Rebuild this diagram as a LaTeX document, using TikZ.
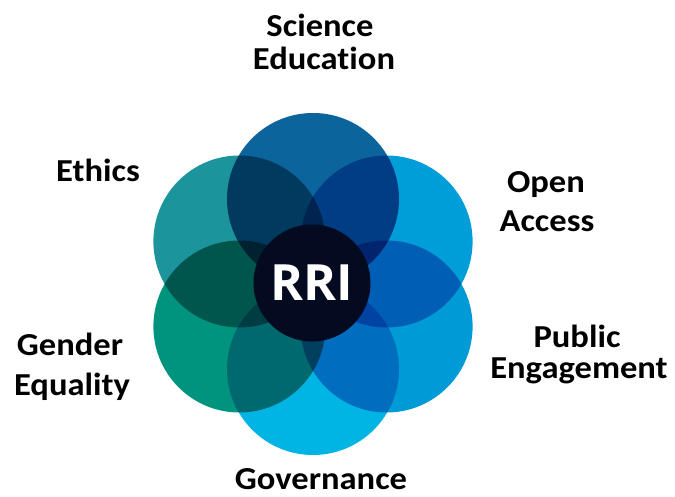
\documentclass[tikz,border=0pt]{standalone}
\usepackage{fontspec}
\setmainfont{Carlito}[Ligatures=NoCommon]
\newfontfamily\rrifont{Open Sans}
\definecolor{cSci}{RGB}{12,100,156}
\definecolor{cOpen}{RGB}{0,158,216}
\definecolor{cPub}{RGB}{0,154,214}
\definecolor{cGov}{RGB}{0,181,228}
\definecolor{cGen}{RGB}{0,148,126}
\definecolor{cEth}{RGB}{28,148,156}
\definecolor{cRRI}{RGB}{4,10,32}
\newcommand{\wide}[1]{\scalebox{1.08}[1]{#1}}
\begin{document}
\begin{tikzpicture}[x=1pt,y=-1pt,
  petal/.style={circle, minimum size=172pt, inner sep=0pt, draw=none},
  lab/.style={anchor=base, inner sep=0pt, text=black,
    font=\bfseries\fontsize{32}{36}\selectfont}]
\useasboundingbox (0,0) rectangle (675,497);
\begin{scope}[blend group=multiply]
  \node[petal, fill=cSci]  (sci) at (313,199) {};
  \node[petal, fill=cOpen] (opn) at (386.6,241.5) {};
  \node[petal, fill=cPub]  (pub) at (386.6,326.5) {};
  \node[petal, fill=cGov]  (gov) at (313,369) {};
  \node[petal, fill=cGen]  (gen) at (239.4,326.5) {};
  \node[petal, fill=cEth]  (eth) at (239.4,241.5) {};
\end{scope}
\node[circle, fill=cRRI, minimum size=117pt, inner sep=0pt, text=white,
  font=\rrifont\bfseries\fontsize{50}{54}\selectfont] (rri) at (312,283) {RRI};
\node[lab] (lsci1) at (320,37) {\wide{Science}};
\node[lab] (lsci2) at (324,70) {\wide{Education}};
\node[lab] (leth)  at (98,182) {\wide{Ethics}};
\node[lab] (lopn1) at (546,193) {\wide{Open}};
\node[lab] (lopn2) at (547,232) {\wide{Access}};
\node[lab] (lgen1) at (70,355) {\wide{Gender}};
\node[lab] (lgen2) at (72,395) {\wide{Equality}};
\node[lab] (lpub1) at (577,347) {\wide{Public}};
\node[lab] (lpub2) at (579,378) {\wide{Engagement}};
\node[lab] (lgov)  at (321,489) {\wide{Governance}};
\end{tikzpicture}
\end{document}
